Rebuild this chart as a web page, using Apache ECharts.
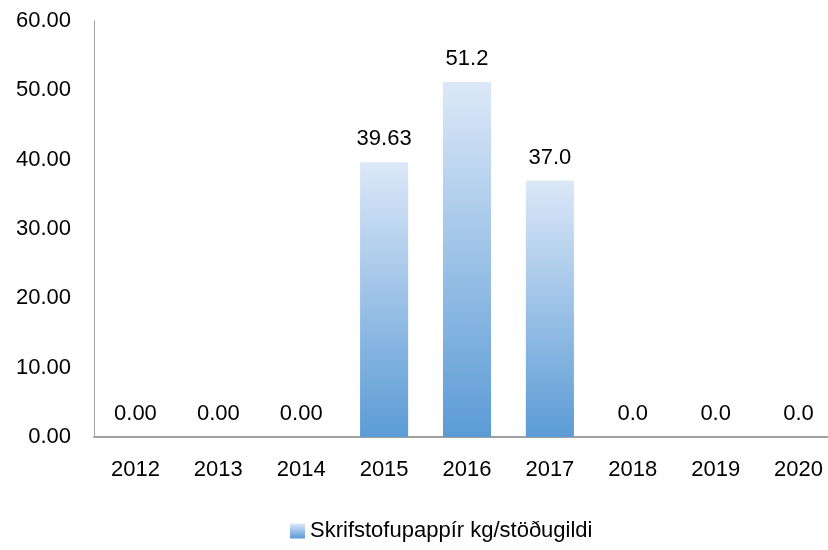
<!DOCTYPE html>
<html>
<head>
<meta charset="utf-8">
<script src="https://cdn.jsdelivr.net/npm/echarts@6/dist/echarts.min.js"></script>
<style>
  html, body { margin: 0; padding: 0; background: #fff; }
  #chart-main { width: 828px; height: 550px; }
</style>
</head>
<body>
<div id="chart-main"></div>
<script>
// gögn lesin af myndinni
const years = ['2012', '2013', '2014', '2015', '2016', '2017', '2018', '2019', '2020'];
const paperValues = [0, 0, 0, 39.63, 51.2, 37.0, 0, 0, 0];
const valueLabels = ['0.00', '0.00', '0.00', '39.63', '51.2', '37.0', '0.0', '0.0', '0.0'];
const seriesName = 'Skrifstofupappír kg/stöðugildi';

const font = '"Liberation Sans", Arial, sans-serif';

let myChart = echarts.init(document.getElementById('chart-main'));

const barGradient = new echarts.graphic.LinearGradient(0, 0, 0, 1, [
  { offset: 0, color: '#dce8f8' },
  { offset: 1, color: '#5b9bd5' }
]);

let option = {
  animation: false,
  grid: { left: 94, width: 746, top: 21, bottom: 113, outerBoundsMode: 'none', containLabel: false },
  legend: {
    top: 515,
    left: 285,
    itemWidth: 15,
    itemHeight: 15,
    itemGap: 6,
    icon: 'rect',
    textStyle: { fontFamily: font, fontSize: 22, color: '#000' }
  },
  xAxis: {
    type: 'category',
    data: years,
    axisLine: { lineStyle: { color: '#a0a0a0', width: 2 } },
    axisTick: { show: false },
    axisLabel: { fontFamily: font, fontSize: 22, color: '#000', margin: 22 }
  },
  yAxis: {
    type: 'value',
    min: 0,
    max: 60,
    interval: 10,
    splitLine: { show: false },
    axisLine: { show: true, lineStyle: { color: '#a0a0a0', width: 1 } },
    axisTick: { show: false },
    axisLabel: {
      fontFamily: font, fontSize: 22, color: '#000', margin: 23,
      formatter: v => v.toFixed(2)
    }
  },
  series: [
    {
      name: seriesName,
      type: 'bar',
      barWidth: '58%',
      data: paperValues,
      itemStyle: { color: barGradient },
      label: {
        show: true,
        position: 'top',
        distance: 12,
        fontFamily: font,
        fontSize: 22,
        color: '#000',
        formatter: p => valueLabels[p.dataIndex]
      }
    }
  ]
};

myChart.setOption(option);
</script>
</body>
</html>
